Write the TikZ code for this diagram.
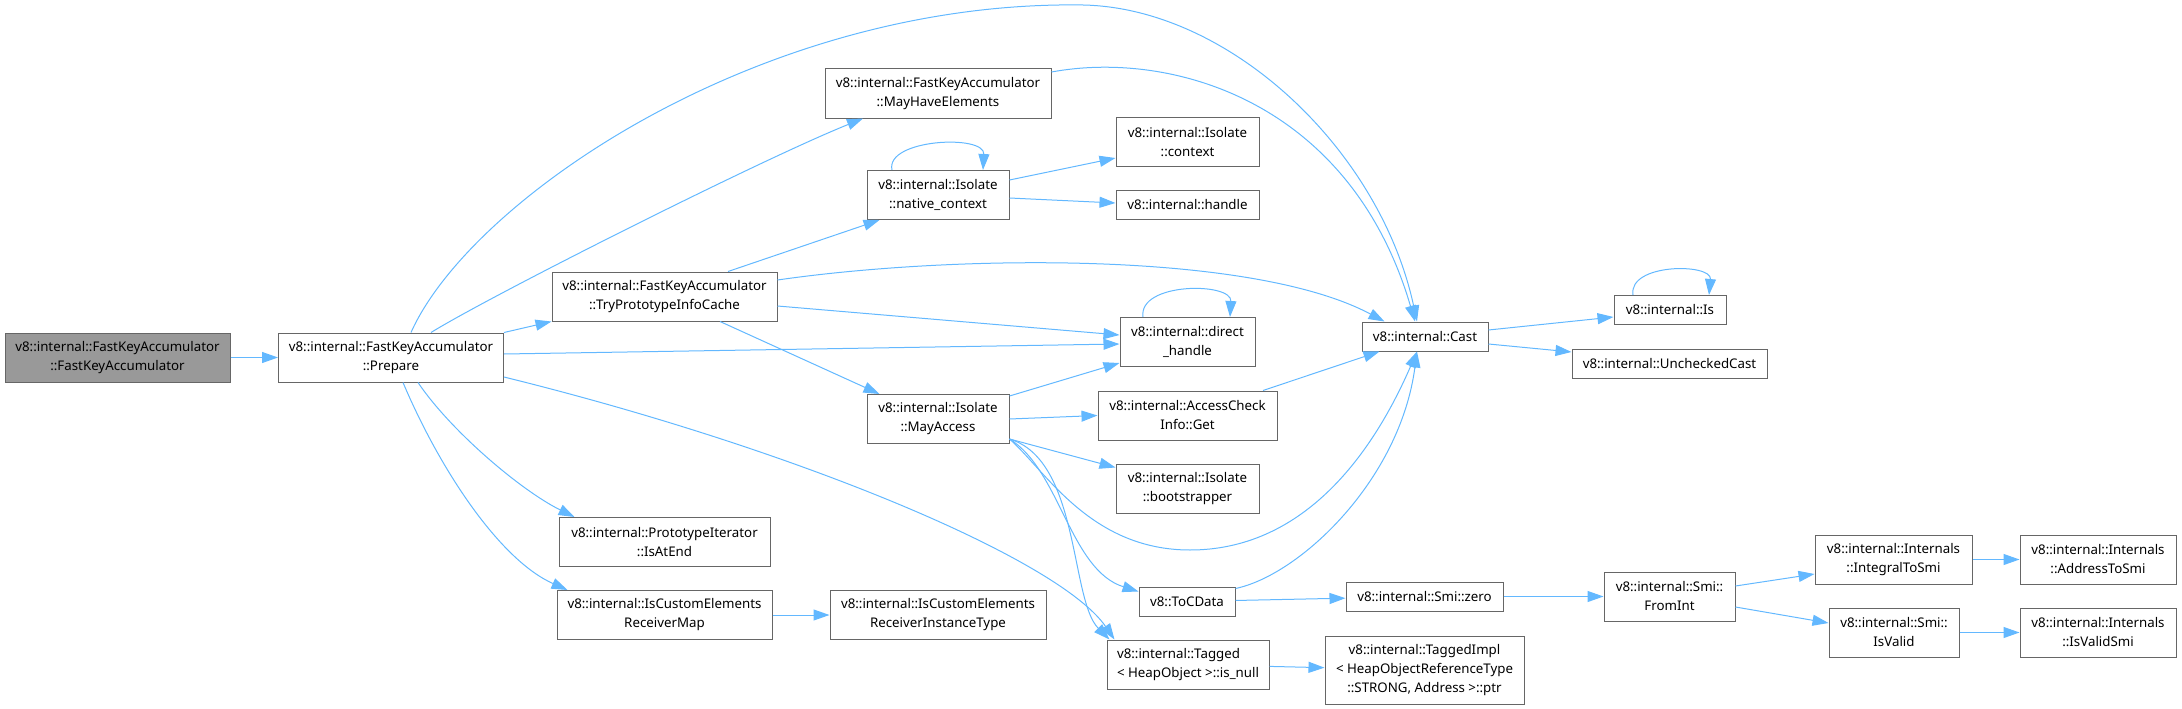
\documentclass[tikz,border=0pt]{standalone}
\usepackage{fontspec}
\setmainfont{Noto Sans}
\usetikzlibrary{arrows.meta}
\definecolor{callblue}{HTML}{63B8FF}
\definecolor{boxgray}{HTML}{666666}
\definecolor{rootgray}{HTML}{999999}
\tikzset{
  func/.style={draw=boxgray, line width=1pt, fill=white, align=center, inner sep=2pt,
               minimum height=29pt, font=\fontsize{13.3}{19}\selectfont},
  twoline/.style={minimum height=49pt},
  rootfunc/.style={func, twoline, fill=rootgray},
  call/.style={-{Triangle[length=16pt,width=11pt]}, line width=1pt, callblue}
}

\begin{document}
\begin{tikzpicture}[x=1pt, y=-1pt]
    \useasboundingbox (0,0) rectangle (2182,709);
    % functions
    \node[rootfunc, minimum width=225pt] (fka) at (117.5,357.5) {v8::internal::FastKeyAccumulator\\::FastKeyAccumulator};
    \node[func, twoline, minimum width=225pt] (prepare) at (391,357.5) {v8::internal::FastKeyAccumulator\\::Prepare};
    \node[func, twoline, minimum width=226pt] (mayhave) at (938,93.5) {v8::internal::FastKeyAccumulator\\::MayHaveElements};
    \node[func, twoline, minimum width=225pt] (trycache) at (664.5,296.5) {v8::internal::FastKeyAccumulator\\::TryPrototypeInfoCache};
    \node[func, twoline, minimum width=142pt] (natctx) at (938,195) {v8::internal::Isolate\\::native\_context};
    \node[func, twoline, minimum width=142pt] (mayacc) at (938,419) {v8::internal::Isolate\\::MayAccess};
    \node[func, twoline, minimum width=211pt] (protoit) at (664.5,542) {v8::internal::PrototypeIterator\\::IsAtEnd};
    \node[func, twoline, minimum width=215pt] (custmap) at (664.5,615) {v8::internal::IsCustomElements\\ReceiverMap};
    \node[func, twoline, minimum width=216pt] (custtype) at (938,615) {v8::internal::IsCustomElements\\ReceiverInstanceType};
    \node[func, twoline, minimum width=143pt] (ctx) at (1187.5,142) {v8::internal::Isolate\\::context};
    \node[func, minimum width=143pt] (handle) at (1187.5,205) {v8::internal::handle};
    \node[func, twoline, minimum width=135pt] (dhandle) at (1187.5,342) {v8::internal::direct\\\_handle};
    \node[func, twoline, minimum width=179pt] (acget) at (1187.5,415.5) {v8::internal::AccessCheck\\Info::Get};
    \node[func, twoline, minimum width=143pt] (boot) at (1187.5,488.5) {v8::internal::Isolate\\::bootstrapper};
    \node[func, minimum width=96pt] (tocdata) at (1187,601.5) {v8::ToCData};
    \node[func, twoline, minimum width=162pt, align=left] (isnull) at (1188,664.5) {v8::internal::Tagged\\< HeapObject >::is\_null};
    \node[func, minimum width=126pt] (cast) at (1425,336.5) {v8::internal::Cast};
    \node[func, minimum width=157pt] (smizero) at (1424.5,596.5) {v8::internal::Smi::zero};
    \node[func, minimum height=68pt, minimum width=199pt] (tagimpl) at (1424.5,670) {v8::internal::TaggedImpl\\< HeapObjectReferenceType\\::STRONG, Address >::ptr};
    \node[func, minimum width=112pt] (is) at (1670,310) {v8::internal::Is};
    \node[func, minimum width=195pt] (unchecked) at (1669.5,363.5) {v8::internal::UncheckedCast};
    \node[func, twoline, minimum width=131pt] (fromint) at (1669.5,596.5) {v8::internal::Smi::\\FromInt};
    \node[func, twoline, minimum width=157pt] (integral) at (1893.5,559.5) {v8::internal::Internals\\::IntegralToSmi};
    \node[func, twoline, minimum width=130pt] (isvalid) at (1894,632.5) {v8::internal::Smi::\\IsValid};
    \node[func, twoline, minimum width=156pt] (addr) at (2098,559.5) {v8::internal::Internals\\::AddressToSmi};
    \node[func, twoline, minimum width=156pt] (validsmi) at (2098,632.5) {v8::internal::Internals\\::IsValidSmi};

    % calls from Prepare
    \draw[call] (fka) -- (prepare);
    \draw[call] ([xshift=40pt]prepare.north) .. controls (490,296) and (760,160) .. ([xshift=-75pt]mayhave.south);
    \draw[call] ([xshift=20pt]prepare.north) .. controls (470,200) and (760,0) .. (1083,5)
                .. controls (1230,8) and (1380,150) .. ([xshift=-8pt]cast.north);
    \draw[call] (prepare.north east) -- (trycache.south west);
    \draw[call] ([yshift=3.5pt]prepare.east) -- ([yshift=-2pt]dhandle.west);
    \draw[call] ([yshift=-19.5pt]prepare.east) .. controls (800,450) and (1060,560) .. ([xshift=8pt]isnull.north west);
    \draw[call] ([xshift=27pt]prepare.south) .. controls (450,430) and (520,490) .. ([xshift=16pt]protoit.north west);
    \draw[call] ([xshift=12pt]prepare.south) .. controls (440,470) and (500,560) .. ([xshift=11pt]custmap.north west);
    \draw[call] (custmap) -- (custtype);

    % calls from TryPrototypeInfoCache
    \draw[call] ([xshift=63.5pt]trycache.north) -- ([xshift=13pt]natctx.south west);
    \draw[call] ([yshift=16.5pt]trycache.east) .. controls (950,255) and (1250,250) .. ([xshift=23pt]cast.north west);
    \draw[call] ([yshift=-9.5pt]trycache.east) -- ([yshift=7pt]dhandle.west);
    \draw[call] ([xshift=55.5pt]trycache.south) -- ([xshift=13pt]mayacc.north west);
    \draw[call] ([yshift=21.5pt]mayhave.east) .. controls (1170,50) and (1350,100) .. ([xshift=-10pt]cast.north);

    % Isolate calls
    \draw[call] ([xshift=-46pt]natctx.north) .. controls +(-7,-31) and +(2,-36) .. ([xshift=45pt]natctx.north);
    \draw[call] ([yshift=15pt]natctx.east) -- ([yshift=-16pt]ctx.west);
    \draw[call] ([yshift=-3pt]natctx.east) -- ([yshift=2pt]handle.west);
    \draw[call] ([yshift=-2pt]mayacc.north east) -- ([yshift=4pt]dhandle.south west);
    \draw[call] (mayacc.east) -- (acget.west);
    \draw[call] ([yshift=5pt]mayacc.south east) -- ([yshift=-4pt]boot.north west);
    \draw[call] ([yshift=5pt]mayacc.south east) .. controls (1045,470) and (1090,550) .. (1190,550)
                .. controls (1300,550) and (1370,460) .. ([xshift=-8pt]cast.south);
    \draw[call] ([yshift=5pt]mayacc.south east) .. controls (1060,470) and (1070,570) .. ([yshift=-5pt]tocdata.north west);
    \draw[call] ([yshift=5pt]mayacc.south east) .. controls (1080,460) and (1070,600) .. ([xshift=3pt]isnull.north west);

    % into Cast and beyond
    \draw[call] ([xshift=75.5pt]acget.north) -- ([xshift=18pt]cast.south west);
    \draw[call] ([yshift=-2pt]tocdata.north east) .. controls (1300,575) and (1400,480) .. ([xshift=-8pt]cast.south);
    \draw[call] (tocdata) -- (smizero);
    \draw[call] (smizero) -- (fromint);
    \draw[call] ([yshift=10.5pt]fromint.east) -- ([yshift=-14.5pt]integral.west);
    \draw[call] ([yshift=-10.5pt]fromint.east) -- ([yshift=9.5pt]isvalid.west);
    \draw[call] (integral) -- (addr);
    \draw[call] (isvalid) -- (validsmi);
    \draw[call] (isnull) -- (tagimpl);
    \draw[call] ([xshift=-44.5pt]dhandle.north) .. controls +(-5,-35) and +(2,-35) .. ([xshift=42.5pt]dhandle.north);
    \draw[call] ([yshift=6.5pt]cast.east) -- ([yshift=-7pt]is.west);
    \draw[call] ([yshift=-7.5pt]cast.east) -- ([yshift=11.5pt]unchecked.west);
    \draw[call] ([xshift=-37pt]is.north) .. controls +(-5,-32) and +(3,-32) .. ([xshift=39pt]is.north);
\end{tikzpicture}
\end{document}
